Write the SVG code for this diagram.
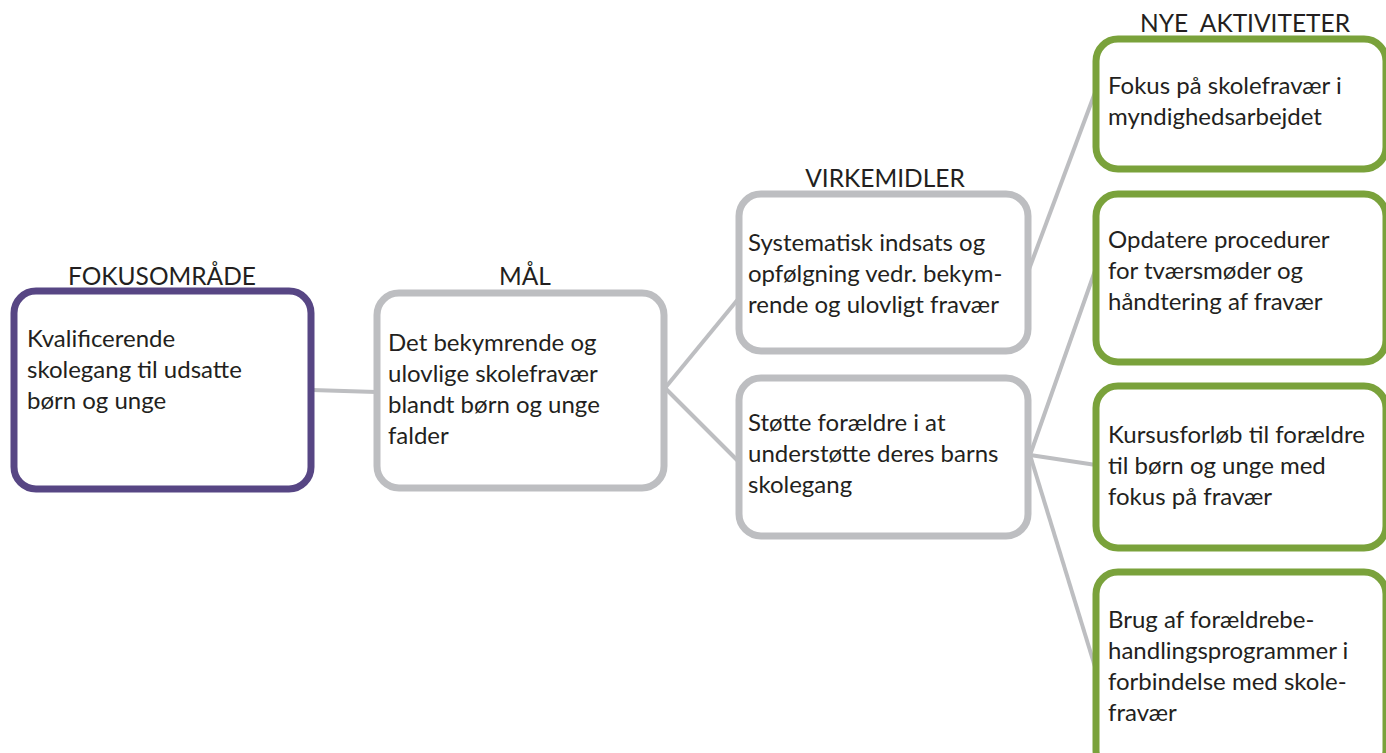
<svg xmlns="http://www.w3.org/2000/svg" width="1386" height="753" viewBox="0 0 1386 753">
<style>
text{font-family:Lato,"Open Sans","Liberation Sans",sans-serif;font-size:24px;fill:#231f20}
.hdr{text-anchor:middle;font-size:24.5px}
.box{fill:#fff;stroke-width:7}
.purple{stroke:#574684}
.gray{stroke:#bdbec1}
.green{stroke:#7aa23b}
.conn line{stroke:#bdbec1;stroke-width:4}
</style>
<rect width="1386" height="753" fill="#fff"/>
<g class="conn">
<line x1="312" y1="390" x2="376" y2="392"/>
<line x1="665" y1="388" x2="739" y2="298"/>
<line x1="665" y1="388" x2="739" y2="462"/>
<line x1="1028" y1="272" x2="1096" y2="90"/>
<line x1="1030" y1="455" x2="1096" y2="268"/>
<line x1="1030" y1="455" x2="1096" y2="465"/>
<line x1="1030" y1="455" x2="1096" y2="670"/>
</g>
<g id="fokus">
<text class="hdr" x="162" y="285">FOKUSOMRÅDE</text>
<rect class="box purple" x="14" y="291" width="297" height="198" rx="22"/>
<text x="27" y="347">Kvalificerende</text>
<text x="27" y="378">skolegang til udsatte</text>
<text x="27" y="409">børn og unge</text>
</g>
<g id="maal">
<text class="hdr" x="525" y="285">MÅL</text>
<rect class="box gray" x="377" y="293" width="287" height="195" rx="22"/>
<text x="388" y="351">Det bekymrende og</text>
<text x="388" y="382">ulovlige skolefravær</text>
<text x="388" y="413">blandt børn og unge</text>
<text x="388" y="444">falder</text>
</g>
<g id="virk1">
<text class="hdr" x="885" y="187">VIRKEMIDLER</text>
<rect class="box gray" x="739" y="194" width="289" height="157" rx="22"/>
<text x="748" y="251">Systematisk indsats og</text>
<text x="748" y="282">opfølgning vedr. bekym-</text>
<text x="748" y="313">rende og ulovligt fravær</text>
</g>
<g id="virk2">
<rect class="box gray" x="739" y="378" width="289" height="158" rx="22"/>
<text x="748" y="431">Støtte forældre i at</text>
<text x="748" y="462">understøtte deres barns</text>
<text x="748" y="493">skolegang</text>
</g>
<g id="akt1">
<text class="hdr" x="1245" y="32" xml:space="preserve">NYE  AKTIVITETER</text>
<rect class="box green" x="1096" y="39" width="290" height="130" rx="22"/>
<text x="1108" y="94">Fokus på skolefravær i</text>
<text x="1108" y="125">myndighedsarbejdet</text>
</g>
<g id="akt2">
<rect class="box green" x="1096" y="194" width="290" height="168" rx="22"/>
<text x="1108" y="248">Opdatere procedurer</text>
<text x="1108" y="279">for tværsmøder og</text>
<text x="1108" y="310">håndtering af fravær</text>
</g>
<g id="akt3">
<rect class="box green" x="1096" y="386" width="290" height="162" rx="22"/>
<text x="1108" y="443">Kursusforløb til forældre</text>
<text x="1108" y="474">til børn og unge med</text>
<text x="1108" y="505">fokus på fravær</text>
</g>
<g id="akt4">
<rect class="box green" x="1096" y="572" width="290" height="200" rx="22"/>
<text x="1108" y="628">Brug af forældrebe-</text>
<text x="1108" y="659">handlingsprogrammer i</text>
<text x="1108" y="690">forbindelse med skole-</text>
<text x="1108" y="721">fravær</text>
</g>
</svg>
